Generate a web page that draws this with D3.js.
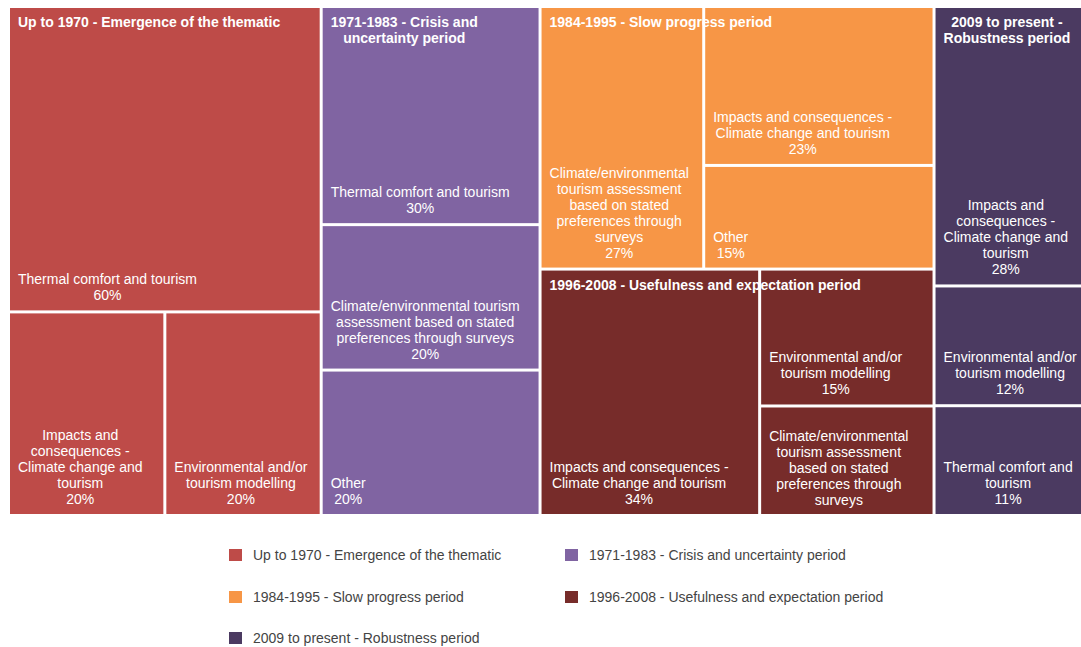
<!DOCTYPE html>
<html><head><meta charset="utf-8">
<script src="https://cdn.jsdelivr.net/npm/d3@7"></script>
<style>body{margin:0;background:#fff;} svg text{font-family:"Liberation Sans", Arial, sans-serif;}</style>
</head><body><svg id="chart" width="1081" height="647"></svg>
<script>
const periods = ["Up to 1970 - Emergence of the thematic", "1971-1983 - Crisis and uncertainty period", "1984-1995 - Slow progress period", "1996-2008 - Usefulness and expectation period", "2009 to present - Robustness period"];
const periodColors = ["#BE4B48", "#8064A2", "#F79646", "#772C2A", "#4B3A61"];
const topicsUpTo1970 = ["Thermal comfort and tourism", "Impacts and consequences - Climate change and tourism", "Environmental and/or tourism modelling"];
const valuesUpTo1970 = [60, 20, 20];
const topics1971 = ["Thermal comfort and tourism", "Climate/environmental tourism assessment based on stated preferences through surveys", "Other"];
const values1971 = [30, 20, 20];
const topics1984 = ["Climate/environmental tourism assessment based on stated preferences through surveys", "Impacts and consequences - Climate change and tourism", "Other"];
const values1984 = [27, 23, 15];
const topics1996 = ["Impacts and consequences - Climate change and tourism", "Environmental and/or tourism modelling", "Climate/environmental tourism assessment based on stated preferences through surveys"];
const values1996 = [34, 15, 12];
const topics2009 = ["Impacts and consequences - Climate change and tourism", "Environmental and/or tourism modelling", "Thermal comfort and tourism"];
const values2009 = [28, 12, 11];

const topicLists = [topicsUpTo1970, topics1971, topics1984, topics1996, topics2009];
const valueLists = [valuesUpTo1970, values1971, values1984, values1996, values2009];

const svg = d3.select("#chart");
svg.append("rect").attr("width", 1081).attr("height", 647).attr("fill", "#fff");

const rootData = {name: "root", children: periods.map((p, i) => ({
  name: p, idx: i,
  children: topicLists[i].map((t, j) => ({name: t, value: valueLists[i][j], idx: i}))
}))};

// squarified tiling (same as d3's, but allowing a target ratio below 1)
function squarifyTile(ratio) {
  return function(parent, x0, y0, x1, y1) {
    const nodes = parent.children, n = nodes.length;
    let i0 = 0, i1 = 0, value = parent.value;
    while (i0 < n) {
      const dx = x1 - x0, dy = y1 - y0;
      let sumValue, nodeValue;
      do sumValue = nodes[i1++].value; while (!sumValue && i1 < n);
      let minValue = sumValue, maxValue = sumValue;
      const alpha = Math.max(dy / dx, dx / dy) / (value * ratio);
      let beta = sumValue * sumValue * alpha;
      let minRatio = Math.max(maxValue / beta, beta / minValue);
      for (; i1 < n; ++i1) {
        sumValue += nodeValue = nodes[i1].value;
        if (nodeValue < minValue) minValue = nodeValue;
        if (nodeValue > maxValue) maxValue = nodeValue;
        beta = sumValue * sumValue * alpha;
        const newRatio = Math.max(maxValue / beta, beta / minValue);
        if (newRatio > minRatio) { sumValue -= nodeValue; break; }
        minRatio = newRatio;
      }
      const row = {value: sumValue, children: nodes.slice(i0, i1)};
      if (dx < dy) d3.treemapDice(row, x0, y0, x1, value ? y0 += dy * sumValue / value : y1);
      else d3.treemapSlice(row, x0, y0, value ? x0 += dx * sumValue / value : x1, y1);
      value -= sumValue; i0 = i1;
    }
  };
}

const root = d3.hierarchy(rootData).sum(d => d.value || 0).sort((a, b) => b.value - a.value);
d3.treemap().tile(squarifyTile(0.82)).size([1082, 506]).paddingInner(3)(root);

const color = d3.scaleOrdinal().domain(d3.range(periods.length)).range(periodColors);

const canvas = document.createElement("canvas");
const ctx = canvas.getContext("2d");
function measure(str, font) { ctx.font = font; return ctx.measureText(str).width; }
function wrap(str, maxW, font) {
  const words = str.split(" ");
  const lines = [];
  let cur = "";
  words.forEach(w => {
    const t = cur ? cur + " " + w : w;
    if (cur && measure(t, font) > maxW) { lines.push(cur); cur = w; } else cur = t;
  });
  if (cur) lines.push(cur);
  return lines;
}

const g = svg.append("g").attr("transform", "translate(10,8)");
const defs = svg.append("defs");
const leafFont = "14px 'Liberation Sans', Arial, sans-serif";
const titleFont = "bold 14px 'Liberation Sans', Arial, sans-serif";
const LH = 16;

root.leaves().forEach((leaf, k) => {
  const w = leaf.x1 - leaf.x0, h = leaf.y1 - leaf.y0;
  g.append("rect").attr("x", leaf.x0).attr("y", leaf.y0).attr("width", w).attr("height", h)
    .attr("fill", color(leaf.data.idx));
  const id = "clip" + k;
  defs.append("clipPath").attr("id", id).append("rect")
    .attr("x", leaf.x0 + 10).attr("y", leaf.y0 + 8).attr("width", w).attr("height", h);
  const lines = wrap(leaf.data.name, w - 16, leafFont);
  lines.push(leaf.data.value + "%");
  const blockW = d3.max(lines, l => measure(l, leafFont));
  const n = lines.length;
  const firstBase = Math.max(leaf.y1 - 10 - (n - 1) * LH, leaf.y0 + 34);
  const cx = leaf.x0 + 8 + blockW / 2;
  const tg = svg.append("g").attr("clip-path", "url(#" + id + ")").append("g").attr("transform", "translate(10,8)");
  const tt = tg.append("text").attr("fill", "#fff").attr("font-size", 14).attr("text-anchor", "middle");
  lines.forEach((l, i) => {
    const y = firstBase + i * LH;
    if (y + 3 > leaf.y1) return; // line does not fit in the cell: hidden
    tt.append("tspan").attr("x", cx).attr("y", y).text(l);
  });
});

const tl = svg.append("g").attr("transform", "translate(10,8)");
root.children.forEach(grp => {
  const w = grp.x1 - grp.x0;
  const lines = wrap(grp.data.name, w - 16, titleFont);
  const blockW = d3.max(lines, l => measure(l, titleFont));
  const cx = grp.x0 + 8 + blockW / 2;
  const t = tl.append("text").attr("fill", "#fff").attr("font-size", 14).attr("font-weight", "bold").attr("text-anchor", "middle");
  lines.forEach((l, i) => t.append("tspan").attr("x", cx).attr("y", grp.y0 + 19 + i * LH).text(l));
});

// legend
const legendCols = [229, 565];
const legendRows = [555, 597, 638];
const lg = svg.append("g");
periods.forEach((p, i) => {
  const x = legendCols[i % 2], y = legendRows[Math.floor(i / 2)];
  lg.append("rect").attr("x", x).attr("y", y - 6).attr("width", 13).attr("height", 12).attr("fill", color(i));
  lg.append("text").attr("x", x + 24).attr("y", y + 5).attr("font-size", 14).attr("fill", "#444").text(p);
});
</script></body></html>
